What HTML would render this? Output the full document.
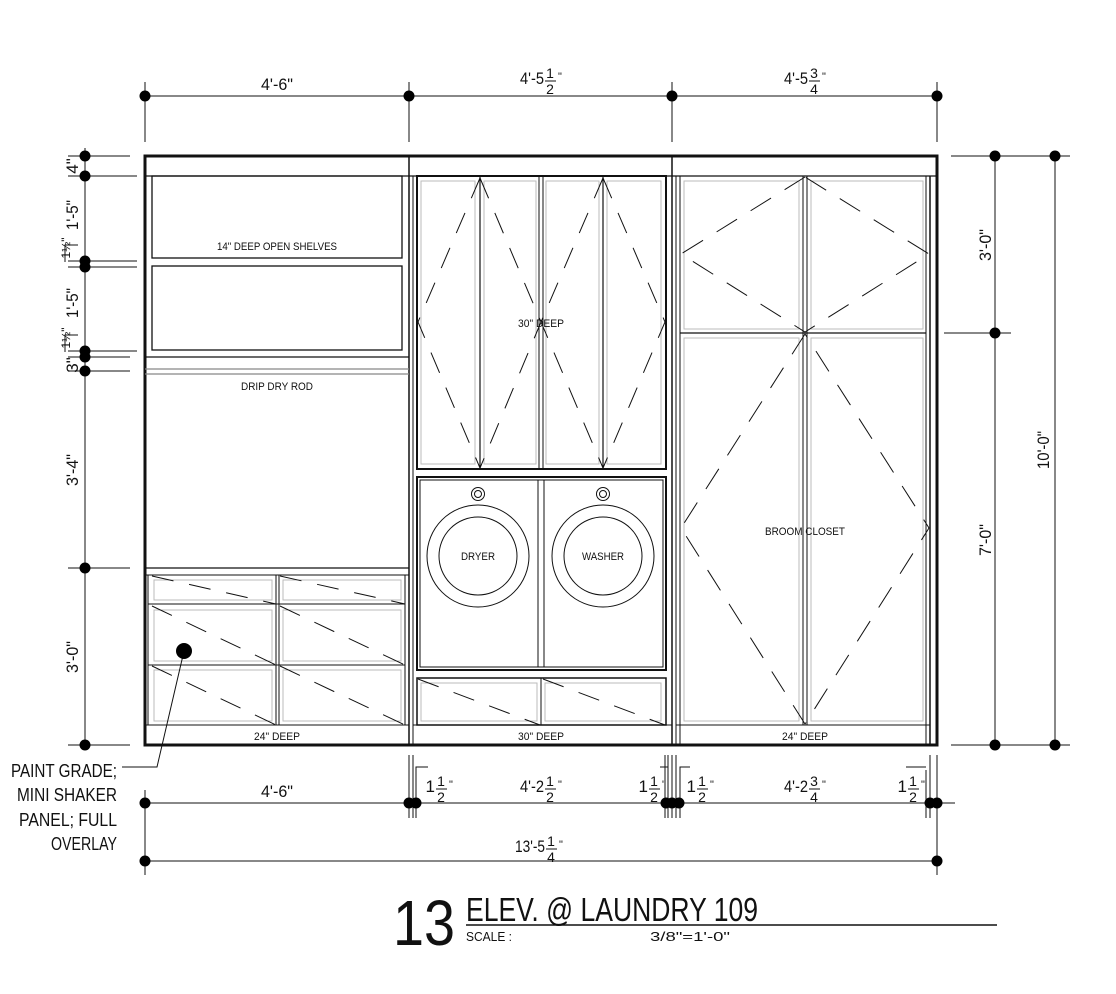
<!DOCTYPE html>
<html><head><meta charset="utf-8"><style>
html,body{margin:0;padding:0;background:#fff;}
svg{display:block;font-family:"Liberation Sans Narrow","Liberation Sans",sans-serif;}
text{fill:#111;}
</style></head><body>
<svg width="1116" height="994" viewBox="0 0 1116 994" xmlns="http://www.w3.org/2000/svg">
<g stroke="#111" fill="none">
<rect x="145" y="156" width="792" height="589" stroke-width="3"/>
<line x1="145" y1="176" x2="937" y2="176" stroke-width="1.2"/>
<line x1="409" y1="156" x2="409" y2="745" stroke-width="1.5"/>
<line x1="413" y1="176" x2="413" y2="745" stroke-width="1"/>
<line x1="672" y1="156" x2="672" y2="745" stroke-width="1.5"/>
<line x1="676" y1="176" x2="676" y2="745" stroke-width="1"/>
<line x1="930" y1="176" x2="930" y2="745" stroke-width="1.5"/>

<rect x="152" y="176" width="250" height="82" stroke-width="1.3"/>
<rect x="152" y="266" width="250" height="84" stroke-width="1.3"/>
<line x1="145" y1="357" x2="409" y2="357" stroke-width="1.3"/>
<line x1="145" y1="369" x2="409" y2="369" stroke="#888" stroke-width="1.2"/>
<line x1="145" y1="374" x2="409" y2="374" stroke="#888" stroke-width="1.2"/>
<line x1="145" y1="568" x2="409" y2="568" stroke-width="1.3"/>
<line x1="145" y1="575" x2="409" y2="575" stroke-width="1"/>
<line x1="148" y1="575" x2="148" y2="725" stroke-width="1"/>
<line x1="405" y1="575" x2="405" y2="725" stroke-width="1"/>
<line x1="148" y1="604" x2="405" y2="604" stroke-width="1"/>
<line x1="148" y1="665" x2="405" y2="665" stroke-width="1"/>
<line x1="145" y1="725" x2="409" y2="725" stroke-width="1"/>
<line x1="276" y1="575" x2="276" y2="725" stroke-width="1"/>
<line x1="279" y1="575" x2="279" y2="725" stroke-width="1"/>
<g stroke="#bbb" stroke-width="1">
<rect x="154" y="580" width="118" height="20"/><rect x="283" y="580" width="118" height="20"/>
<rect x="154" y="610" width="118" height="51"/><rect x="283" y="610" width="118" height="51"/>
<rect x="154" y="670" width="118" height="51"/><rect x="283" y="670" width="118" height="51"/>
</g>
<g stroke-dasharray="22,16" stroke-width="1">
<line x1="152" y1="576" x2="276" y2="604"/><line x1="280" y1="576" x2="405" y2="604"/>
<line x1="152" y1="606" x2="276" y2="665"/><line x1="280" y1="606" x2="405" y2="665"/>
<line x1="152" y1="666" x2="276" y2="725"/><line x1="280" y1="666" x2="405" y2="725"/>
</g>

<rect x="417" y="176" width="249" height="293" stroke-width="2"/>
<line x1="480" y1="176" x2="480" y2="469" stroke-width="1.2"/>
<line x1="539" y1="176" x2="539" y2="469" stroke-width="1"/>
<line x1="543" y1="176" x2="543" y2="469" stroke-width="1"/>
<line x1="603" y1="176" x2="603" y2="469" stroke-width="1.2"/>
<g stroke="#bbb"><rect x="421" y="181" width="54" height="283"/><rect x="484" y="181" width="52" height="283"/><rect x="546" y="181" width="53" height="283"/><rect x="607" y="181" width="54" height="283"/></g>
<g stroke-dasharray="22,16" stroke-width="1">
<polyline points="480,178 418,322 480,468"/><polyline points="480,178 541,322 480,468"/>
<polyline points="603,178 541,322 603,468"/><polyline points="603,178 665,322 603,468"/>
</g>
<rect x="417" y="477" width="249" height="193" stroke-width="2"/>
<rect x="420" y="480" width="243" height="187" stroke-width="1"/>
<line x1="538" y1="480" x2="538" y2="667"/><line x1="544" y1="480" x2="544" y2="667"/>
<circle cx="478" cy="494" r="6.5"/><circle cx="478" cy="494" r="3.5"/>
<circle cx="603" cy="494" r="6.5"/><circle cx="603" cy="494" r="3.5"/>
<circle cx="478" cy="556" r="51"/><circle cx="478" cy="556" r="39"/>
<circle cx="603" cy="556" r="51"/><circle cx="603" cy="556" r="39"/>
<rect x="417" y="678" width="249" height="47" stroke-width="1.5"/>
<line x1="541" y1="678" x2="541" y2="725"/>
<g stroke="#bbb"><rect x="421" y="683" width="116" height="38"/><rect x="545" y="683" width="116" height="38"/></g>
<g stroke-dasharray="22,16" stroke-width="1"><line x1="418" y1="679" x2="540" y2="725"/><line x1="543" y1="679" x2="665" y2="725"/></g>
<line x1="413" y1="725" x2="672" y2="725"/>

<line x1="680" y1="176" x2="680" y2="745" stroke-width="1"/>
<line x1="926" y1="176" x2="926" y2="745" stroke-width="1"/>
<line x1="680" y1="333" x2="926" y2="333" stroke-width="1.2"/>
<line x1="803" y1="176" x2="803" y2="725"/><line x1="807" y1="176" x2="807" y2="725"/>
<line x1="676" y1="725" x2="930" y2="725"/>
<g stroke="#bbb"><rect x="684" y="181" width="115" height="148"/><rect x="811" y="181" width="112" height="148"/><rect x="684" y="338" width="115" height="383"/><rect x="811" y="338" width="112" height="383"/></g>
<g stroke-dasharray="24,16" stroke-width="1">
<polygon points="805,177 681,254 805,332 929,254"/>
<polygon points="805,334 681,528 805,724 929,528"/>
</g>

<line x1="145" y1="96" x2="937" y2="96" stroke-width="1"/>
<g stroke-width="1"><line x1="145" y1="82" x2="145" y2="142"/><line x1="409" y1="82" x2="409" y2="142"/><line x1="672" y1="82" x2="672" y2="142"/><line x1="937" y1="82" x2="937" y2="142"/></g>
<line x1="85" y1="148" x2="85" y2="745" stroke-width="1"/>
<g stroke-width="1">
<line x1="68" y1="156" x2="130" y2="156"/><line x1="68" y1="176" x2="137" y2="176"/>
<line x1="68" y1="261" x2="137" y2="261"/><line x1="68" y1="267" x2="137" y2="267"/>
<line x1="68" y1="351" x2="137" y2="351"/><line x1="68" y1="357" x2="130" y2="357"/>
<line x1="68" y1="371" x2="130" y2="371"/><line x1="68" y1="568" x2="130" y2="568"/>
<line x1="68" y1="745" x2="130" y2="745"/>
<polyline points="78,245 65,245 65,262"/><polyline points="78,335 65,335 65,352"/>
</g>
<line x1="995" y1="156" x2="995" y2="745" stroke-width="1"/>
<line x1="1055" y1="156" x2="1055" y2="745" stroke-width="1"/>
<g stroke-width="1"><line x1="951" y1="156" x2="1070" y2="156"/><line x1="944" y1="333" x2="1011" y2="333"/><line x1="951" y1="745" x2="1070" y2="745"/></g>
<line x1="145" y1="803" x2="955" y2="803" stroke-width="1"/>
<line x1="145" y1="861" x2="937" y2="861" stroke-width="1"/>
<g stroke-width="1">
<line x1="145" y1="790" x2="145" y2="875"/>
<line x1="409" y1="755" x2="409" y2="818"/><line x1="413" y1="755" x2="413" y2="818"/><line x1="416" y1="770" x2="416" y2="818"/>
<line x1="665" y1="755" x2="665" y2="818"/><line x1="668" y1="755" x2="668" y2="818"/><line x1="672" y1="755" x2="672" y2="818"/><line x1="676" y1="755" x2="676" y2="818"/><line x1="680" y1="770" x2="680" y2="818"/>
<line x1="926" y1="770" x2="926" y2="818"/><line x1="930" y1="755" x2="930" y2="818"/><line x1="937" y1="755" x2="937" y2="875"/>
<polyline points="416,770 416,767 428,767"/><polyline points="660,767 668,767 668,770"/>
<polyline points="680,770 680,767 690,767"/><polyline points="906,767 926,767"/>
</g>
<polyline points="184,651 157,767 122,767" stroke-width="1"/>
<line x1="466" y1="925" x2="997" y2="925" stroke-width="1.5"/>
</g>

<g fill="#000">
<circle cx="145" cy="96" r="5.5"/><circle cx="409" cy="96" r="5.5"/><circle cx="672" cy="96" r="5.5"/><circle cx="937" cy="96" r="5.5"/>
<circle cx="85" cy="156" r="5.5"/><circle cx="85" cy="176" r="5.5"/><circle cx="85" cy="261" r="5.5"/><circle cx="85" cy="267" r="5.5"/><circle cx="85" cy="351" r="5.5"/><circle cx="85" cy="357" r="5.5"/><circle cx="85" cy="371" r="5.5"/><circle cx="85" cy="568" r="5.5"/><circle cx="85" cy="745" r="5.5"/>
<circle cx="995" cy="156" r="5.5"/><circle cx="995" cy="333" r="5.5"/><circle cx="995" cy="745" r="5.5"/><circle cx="1055" cy="156" r="5.5"/><circle cx="1055" cy="745" r="5.5"/>
<circle cx="145" cy="803" r="5.5"/><circle cx="409" cy="803" r="5.5"/><circle cx="416" cy="803" r="5.5"/><circle cx="666" cy="803" r="5.5"/><circle cx="672" cy="803" r="5.5"/><circle cx="679" cy="803" r="5.5"/><circle cx="930" cy="803" r="5.5"/><circle cx="937" cy="803" r="5.5"/>
<circle cx="145" cy="861" r="5.5"/><circle cx="937" cy="861" r="5.5"/>
<circle cx="184" cy="651" r="8"/>
</g>

<g font-size="11" text-anchor="middle">
<text x="277" y="250" textLength="120" lengthAdjust="spacingAndGlyphs">14" DEEP OPEN SHELVES</text>
<text x="277" y="390" textLength="72" lengthAdjust="spacingAndGlyphs">DRIP DRY ROD</text>
<text x="277" y="740" textLength="46" lengthAdjust="spacingAndGlyphs">24" DEEP</text>
<text x="541" y="327" textLength="46" lengthAdjust="spacingAndGlyphs">30" DEEP</text>
<text x="478" y="560" textLength="34" lengthAdjust="spacingAndGlyphs">DRYER</text>
<text x="603" y="560" textLength="42" lengthAdjust="spacingAndGlyphs">WASHER</text>
<text x="541" y="740" textLength="46" lengthAdjust="spacingAndGlyphs">30" DEEP</text>
<text x="805" y="535" textLength="80" lengthAdjust="spacingAndGlyphs">BROOM CLOSET</text>
<text x="805" y="740" textLength="46" lengthAdjust="spacingAndGlyphs">24" DEEP</text>
</g>

<g font-size="17">
<text x="277" y="90" text-anchor="middle" textLength="32" lengthAdjust="spacingAndGlyphs">4'-6"</text>
<text x="277" y="797" text-anchor="middle" textLength="32" lengthAdjust="spacingAndGlyphs">4'-6"</text>
<g text-anchor="end">
<text x="544" y="84" textLength="24" lengthAdjust="spacingAndGlyphs">4'-5</text>
<text x="808" y="84" textLength="24" lengthAdjust="spacingAndGlyphs">4'-5</text>
<text x="544" y="792" textLength="24" lengthAdjust="spacingAndGlyphs">4'-2</text>
<text x="808" y="792" textLength="24" lengthAdjust="spacingAndGlyphs">4'-2</text>
<text x="545" y="852" textLength="30" lengthAdjust="spacingAndGlyphs">13'-5</text>
<text x="435" y="792">1</text><text x="648" y="792">1</text><text x="696" y="792">1</text><text x="907" y="792">1</text>
</g>
<g text-anchor="middle" font-size="14">
<text x="550" y="78">1</text><text x="550" y="94">2</text>
<text x="814" y="78">3</text><text x="814" y="94">4</text>
<text x="550" y="786">1</text><text x="550" y="802">2</text>
<text x="814" y="786">3</text><text x="814" y="802">4</text>
<text x="551" y="846">1</text><text x="551" y="862">4</text>
<text x="441" y="786">1</text><text x="441" y="802">2</text>
<text x="654" y="786">1</text><text x="654" y="802">2</text>
<text x="702" y="786">1</text><text x="702" y="802">2</text>
<text x="913" y="786">1</text><text x="913" y="802">2</text>
</g>
<g stroke="#111">
<line x1="545" y1="81" x2="556" y2="81"/><line x1="809" y1="81" x2="820" y2="81"/>
<line x1="545" y1="789" x2="556" y2="789"/><line x1="809" y1="789" x2="820" y2="789"/>
<line x1="546" y1="849" x2="557" y2="849"/>
<line x1="436" y1="789" x2="447" y2="789"/><line x1="649" y1="789" x2="660" y2="789"/>
<line x1="697" y1="789" x2="708" y2="789"/><line x1="908" y1="789" x2="919" y2="789"/>
</g>
<g font-size="11">
<text x="558" y="80">"</text><text x="822" y="80">"</text><text x="558" y="788">"</text><text x="822" y="788">"</text><text x="559" y="848">"</text>
<text x="449" y="788">"</text><text x="662" y="788">"</text><text x="710" y="788">"</text><text x="921" y="788">"</text>
</g>
</g>

<g font-size="17" text-anchor="middle">
<text transform="translate(78,166) rotate(-90)">4"</text>
<text transform="translate(78,215) rotate(-90)" textLength="30" lengthAdjust="spacingAndGlyphs">1'-5"</text>
<text transform="translate(78,303) rotate(-90)" textLength="30" lengthAdjust="spacingAndGlyphs">1'-5"</text>
<text transform="translate(78,365) rotate(-90)">3"</text>
<text transform="translate(78,470) rotate(-90)" textLength="32" lengthAdjust="spacingAndGlyphs">3'-4"</text>
<text transform="translate(78,657) rotate(-90)" textLength="32" lengthAdjust="spacingAndGlyphs">3'-0"</text>
<text transform="translate(70,248) rotate(-90)" font-size="12">1½"</text>
<text transform="translate(70,338) rotate(-90)" font-size="12">1½"</text>
<text transform="translate(991,245) rotate(-90)" textLength="32" lengthAdjust="spacingAndGlyphs">3'-0"</text>
<text transform="translate(991,540) rotate(-90)" textLength="32" lengthAdjust="spacingAndGlyphs">7'-0"</text>
<text transform="translate(1049,450) rotate(-90)" textLength="38" lengthAdjust="spacingAndGlyphs">10'-0"</text>
</g>

<g font-size="18" text-anchor="end">
<text x="117" y="777" textLength="106" lengthAdjust="spacingAndGlyphs">PAINT GRADE;</text>
<text x="117" y="801" textLength="100" lengthAdjust="spacingAndGlyphs">MINI SHAKER</text>
<text x="117" y="826" textLength="98" lengthAdjust="spacingAndGlyphs">PANEL; FULL</text>
<text x="117" y="850" textLength="66" lengthAdjust="spacingAndGlyphs">OVERLAY</text>
</g>

<text x="393" y="945" font-size="64" textLength="62" lengthAdjust="spacingAndGlyphs">13</text>
<text x="466" y="921" font-size="33" textLength="292" lengthAdjust="spacingAndGlyphs">ELEV. @ LAUNDRY 109</text>
<text x="466" y="941" font-size="13" textLength="46" lengthAdjust="spacingAndGlyphs">SCALE :</text>
<text x="650" y="941" font-size="13" textLength="80" lengthAdjust="spacingAndGlyphs">3/8"=1'-0"</text>
</svg>
</body></html>
